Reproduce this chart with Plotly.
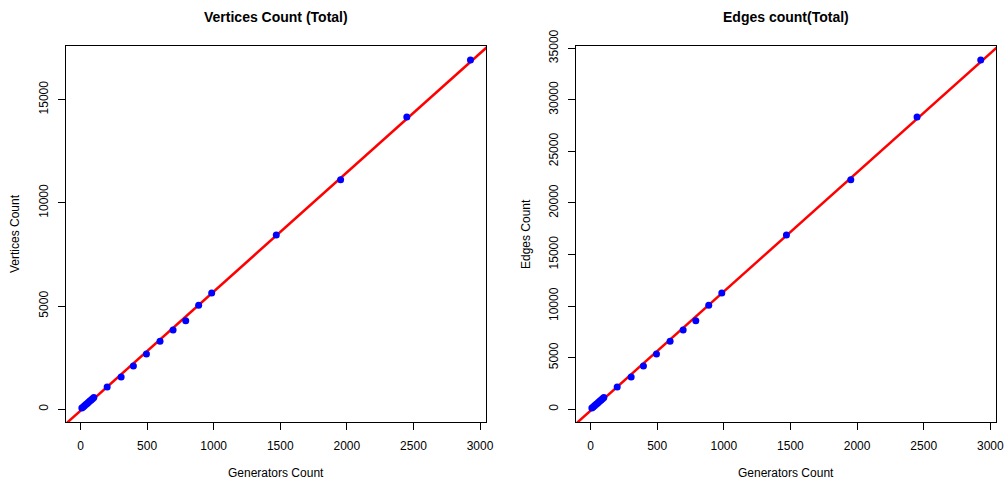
import numpy as np
import plotly.graph_objects as go

# Generators count and resulting graph sizes
generators = [10, 20, 30, 40, 50, 60, 70, 80, 90, 100,
              200, 305, 397, 495, 597, 695, 790, 887, 985,
              1470, 1953, 2450, 2928]
vertices = [60, 115, 170, 230, 285, 340, 400, 455, 510, 570,
            1080, 1565, 2097, 2679, 3294, 3841, 4292, 5038, 5634,
            8443, 11122, 14159, 16920]
edges = [120, 230, 340, 460, 570, 680, 800, 910, 1020, 1140,
         2162, 3132, 4198, 5362, 6593, 7689, 8590, 10083, 11276,
         16899, 22261, 28340, 33867]

x_ticks = [0, 500, 1000, 1500, 2000, 2500, 3000]
v_ticks = [0, 5000, 10000, 15000]
e_ticks = [0, 5000, 10000, 15000, 20000, 25000, 30000, 35000]

FONT = "Liberation Sans, Arial, sans-serif"
W, H = 1006, 484


def padded(vals):
    lo, hi = min(vals), max(vals)
    d = hi - lo
    return [lo - 0.04 * d, hi + 0.04 * d]


def fit(x, y):
    slope, icpt = np.polyfit(np.asarray(x, float), np.asarray(y, float), 1)
    return slope, icpt


fig = go.Figure()

panels = [
    dict(y=vertices, ticks=v_ticks, title="Vertices Count (Total)", ylab="Vertices Count",
         xd=[66.3 / W, 486.0 / W], xa="x", ya="y", ylab_x=15, title_x=276),
    dict(y=edges, ticks=e_ticks, title="Edges count(Total)", ylab="Edges Count",
         xd=[576.3 / W, 996.3 / W], xa="x2", ya="y2", ylab_x=526, title_x=786),
]

y_dom = [(H - 422) / H, (H - 46) / H]
layout_axes = {}
annotations = []

for i, p in enumerate(panels):
    sx = "" if i == 0 else str(i + 1)
    xr = padded(generators)
    yr = padded(p["y"])
    slope, icpt = fit(generators, p["y"])
    lx = [xr[0] - 200, xr[1] + 200]
    ly = [icpt + slope * v for v in lx]

    fig.add_trace(go.Scatter(x=lx, y=ly, mode="lines",
                             line=dict(color="#ff0000", width=2.5),
                             xaxis=p["xa"], yaxis=p["ya"], hoverinfo="skip",
                             showlegend=False))
    fig.add_trace(go.Scatter(x=generators, y=p["y"], mode="markers",
                             marker=dict(color="#0000ff", size=7, line=dict(width=0)),
                             xaxis=p["xa"], yaxis=p["ya"], showlegend=False))

    common = dict(showline=True, mirror=True, linecolor="black", linewidth=1,
                  ticks="outside", ticklen=7, tickwidth=1, tickcolor="black",
                  showgrid=False, zeroline=False, automargin=False,
                  tickfont=dict(family=FONT, size=12, color="black"))
    layout_axes["xaxis" + sx] = dict(domain=p["xd"], range=xr, anchor="y" + sx,
                                     tickmode="array", tickvals=x_ticks,
                                     ticktext=[str(t) for t in x_ticks],
                                     ticklabelstandoff=6, **common)
    layout_axes["yaxis" + sx] = dict(domain=y_dom, range=yr, anchor="x" + sx,
                                     tickmode="array", tickvals=p["ticks"],
                                     ticktext=[str(t) for t in p["ticks"]],
                                     tickangle=-90, ticklabelstandoff=6, **common)

    xc = (p["xd"][0] + p["xd"][1]) / 2
    annotations.append(dict(text="<b>" + p["title"] + "</b>", x=p["title_x"] / W, y=1 - 17 / H,
                            xref="paper", yref="paper", showarrow=False,
                            xanchor="center", yanchor="middle",
                            font=dict(family=FONT, size=14, color="black")))
    annotations.append(dict(text="Generators Count", x=xc, y=1 - 473 / H,
                            xref="paper", yref="paper", showarrow=False,
                            xanchor="center", yanchor="middle",
                            font=dict(family=FONT, size=12, color="black")))
    annotations.append(dict(text=p["ylab"], x=p["ylab_x"] / W, y=(y_dom[0] + y_dom[1]) / 2,
                            xref="paper", yref="paper", showarrow=False, textangle=-90,
                            xanchor="center", yanchor="middle",
                            font=dict(family=FONT, size=12, color="black")))

fig.update_layout(width=W, height=H, margin=dict(l=0, r=0, t=0, b=0, autoexpand=False),
                  paper_bgcolor="white", plot_bgcolor="white",
                  annotations=annotations, **layout_axes)

fig.write_html("out.html")
